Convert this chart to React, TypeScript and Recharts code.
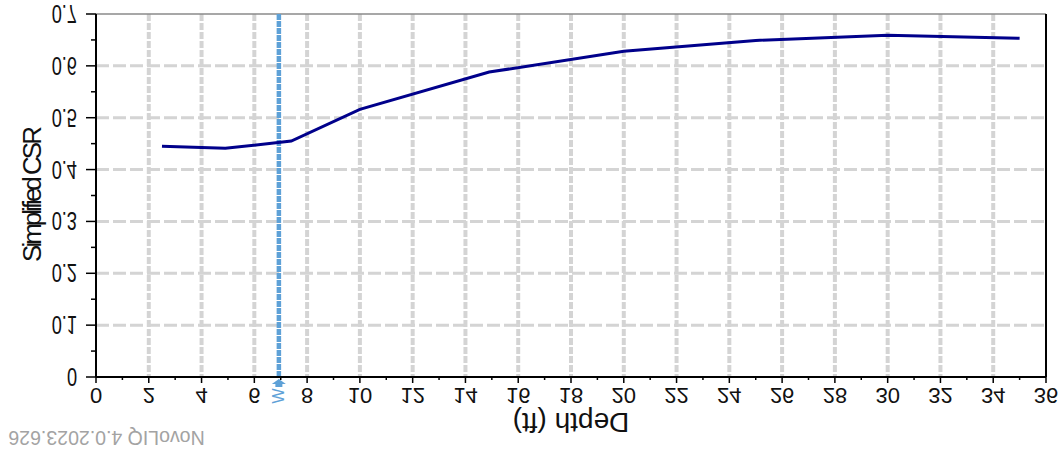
import { LineChart, Line, XAxis, YAxis, CartesianGrid, ReferenceLine } from 'recharts';

// depth (ft) vs simplified CSR
const depths = [2.5, 4.9, 7.4, 10, 14.9, 20, 25, 30, 35];
const csrValues = [0.445, 0.441, 0.455, 0.516, 0.588, 0.628, 0.649, 0.659, 0.653];

const waterTableDepth = 6.93;

const xTicks = [0, 1, 2, 3, 4, 5, 6, 7, 8, 9, 10, 11, 12, 13, 14, 15, 16, 17, 18, 19, 20, 21, 22, 23, 24, 25, 26, 27, 28, 29, 30, 31, 32, 33, 34, 35, 36];
const xLabelTicks = [0, 2, 4, 6, 8, 10, 12, 14, 16, 18, 20, 22, 24, 26, 28, 30, 32, 34, 36];
const xGridLines = [2, 4, 6, 8, 10, 12, 14, 16, 18, 20, 22, 24, 26, 28, 30, 32, 34];

const yTicks = [0, 0.05, 0.1, 0.15, 0.2, 0.25, 0.3, 0.35, 0.4, 0.45, 0.5, 0.55, 0.6, 0.65, 0.7];
const yLabelTicks = [0, 0.1, 0.2, 0.3, 0.4, 0.5, 0.6, 0.7];
const yGridLines = [0.1, 0.2, 0.3, 0.4, 0.5, 0.6];

const data = depths.map((d, i) => ({ depth: d, csr: csrValues[i] }));

const NARROW = '"Liberation Sans Narrow", "Liberation Sans", Arial, sans-serif';
const SANS = '"Liberation Sans", Arial, sans-serif';
const WT_BLUE = '#5ea1d7';

const XTick = (props: any) => {
  const { x, y, payload } = props;
  const v = payload.value;
  const major = xLabelTicks.includes(v);
  return (
    <g>
      <line x1={x} x2={x} y1={y} y2={y + (major ? 6 : 3)} stroke="#000" strokeWidth={1.5} />
      {major && (
        <text
          transform={`translate(${x},${y + 19}) scale(1,-1)`}
          y={8}
          textAnchor="middle"
          fontFamily={NARROW}
          fontSize={22}
          fill="#111"
        >
          {v}
        </text>
      )}
    </g>
  );
};

const YTick = (props: any) => {
  const { x, y, payload } = props;
  const v = payload.value;
  const major = yLabelTicks.includes(v);
  return (
    <g>
      <line x1={x - (major ? 10 : 5)} x2={x} y1={y} y2={y} stroke="#000" strokeWidth={1.5} />
      {major && (
        <text
          transform={`translate(${x - 19},${y}) scale(0.7,-1)`}
          y={9}
          textAnchor="end"
          fontFamily={NARROW}
          fontSize={26}
          fill="#111"
        >
          {v === 0 ? '0' : v.toFixed(1)}
        </text>
      )}
    </g>
  );
};

const xAxisTitle = ({ viewBox }: any) => {
  const cx = viewBox.x + viewBox.width / 2;
  const by = viewBox.y + 36;
  const wx = viewBox.x + 10.5;
  const wy = viewBox.y + 54;
  return (
    <g>
      <text
        x={cx}
        y={by}
        transform={`rotate(180,${cx},${by})`}
        textAnchor="middle"
        fontFamily={SANS}
        fontSize={28}
        fill="#111"
      >
        Depth (ft)
      </text>
      <text
        x={wx}
        y={wy}
        transform={`rotate(180,${wx},${wy})`}
        textAnchor="middle"
        fontFamily={SANS}
        fontSize={19.5}
        fill="#a3a3a3"
      >
        NovoLIQ 4.0.2023.626
      </text>
    </g>
  );
};

const yAxisTitle = ({ viewBox }: any) => {
  const tx = viewBox.x + 41;
  const ty = viewBox.y + viewBox.height / 2;
  return (
    <text
      x={tx}
      y={ty}
      transform={`rotate(-90,${tx},${ty})`}
      textAnchor="middle"
      fontFamily={NARROW}
      fontSize={26}
      letterSpacing={-3}
      fill="#111"
    >
      Simplified CSR
    </text>
  );
};

const waterTableMark = ({ viewBox }: any) => {
  const x = viewBox.x;
  const b = viewBox.y + viewBox.height;
  return (
    <g>
      <polygon points={`${x},${b + 2} ${x - 7},${b + 7} ${x + 7},${b + 7}`} fill={WT_BLUE} />
      <rect x={x - 3.5} y={b + 7} width={7} height={3} fill={WT_BLUE} />
      <text
        x={x}
        y={b + 19}
        transform={`rotate(-90,${x},${b + 19})`}
        textAnchor="middle"
        dominantBaseline="central"
        fontFamily={SANS}
        fontSize={16}
        fill={WT_BLUE}
      >
        W
      </text>
    </g>
  );
};

export default function App() {
  return (
    <div style={{ position: 'absolute', left: 0, top: 0, background: '#fff' }}>
      <LineChart width={1061} height={451} data={data} margin={{ top: 14, right: 15, bottom: 0, left: 0 }}>
        <CartesianGrid
          horizontal={false}
          verticalValues={xGridLines}
          stroke="#d4d4d4"
          strokeWidth={4}
          strokeDasharray="7 2"
        />
        <CartesianGrid
          vertical={false}
          horizontalValues={yGridLines}
          stroke="#d4d4d4"
          strokeWidth={3}
          strokeDasharray="13 4"
        />
        <XAxis
          type="number"
          dataKey="depth"
          domain={[0, 36]}
          ticks={xTicks}
          interval={0}
          height={74}
          tickSize={0}
          tickMargin={0}
          tickLine={false}
          tick={XTick}
          axisLine={{ stroke: '#000', strokeWidth: 2 }}
          label={{ content: xAxisTitle }}
        />
        <YAxis
          type="number"
          domain={[0, 0.7]}
          ticks={yTicks}
          interval={0}
          width={96}
          tickSize={0}
          tickMargin={0}
          tickLine={false}
          tick={YTick}
          axisLine={{ stroke: '#000', strokeWidth: 2 }}
          label={{ content: yAxisTitle }}
        />
        <ReferenceLine y={0.7} stroke="#8a8a8a" strokeWidth={1.5} />
        <ReferenceLine x={36} stroke="#000" strokeWidth={2} />
        <ReferenceLine
          x={waterTableDepth}
          stroke={WT_BLUE}
          strokeWidth={4.5}
          strokeDasharray="6 1"
          label={{ content: waterTableMark }}
        />
        <Line
          type="linear"
          dataKey="csr"
          stroke="#00008b"
          strokeWidth={3}
          dot={false}
          isAnimationActive={false}
        />
      </LineChart>
    </div>
  );
}
